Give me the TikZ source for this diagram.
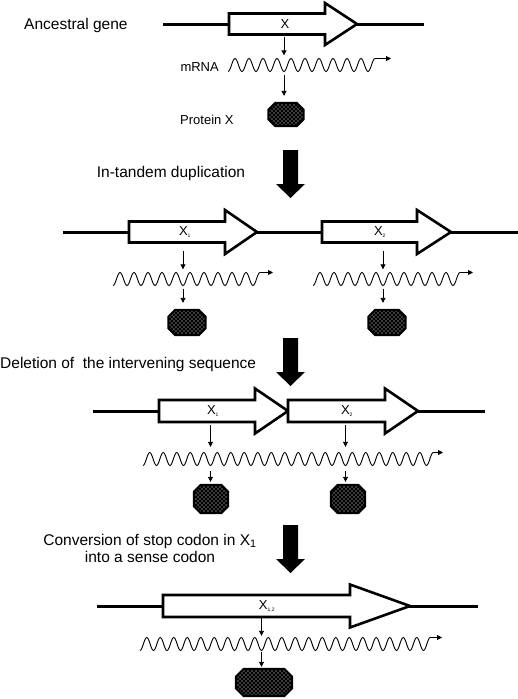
\documentclass[tikz,border=0pt]{standalone}
\usepackage{fontspec}
\setmainfont{Liberation Sans}
\usetikzlibrary{arrows.meta,patterns}

% staggered white dots for the proteins
\pgfdeclarepatternformonly{whitedots}{\pgfqpoint{-1pt}{-1pt}}{\pgfqpoint{3pt}{3pt}}{\pgfqpoint{4pt}{4pt}}{%
  \pgfpathcircle{\pgfqpoint{0pt}{0pt}}{0.65pt}%
  \pgfpathcircle{\pgfqpoint{2pt}{2pt}}{0.65pt}%
  \pgfusepath{fill}}

\begin{document}
\begin{tikzpicture}[x=1pt,y=1pt,
    backbone/.style={line width=3pt},
    gene/.style={line width=2.6pt,fill=white,line join=miter},
    glabel/.style={font=\fontsize{13}{15}\selectfont,inner sep=0pt,minimum height=22pt},
    tag/.style={font=\fontsize{13}{15}\selectfont,inner sep=0pt},
    steplabel/.style={font=\fontsize{15.5}{17.5}\selectfont,inner sep=0pt},
    rna/.style={line width=0.9pt,-{Triangle[length=5pt,width=5pt]}},
    hub/.style={inner sep=0pt,minimum width=0pt,minimum height=19pt},
    cue/.style={line width=0.9pt,-{Triangle[length=5pt,width=5pt]}},
    prot/.style={inner sep=0pt,minimum width=36pt,minimum height=25pt},
    octa/.style={fill=black,postaction={pattern=whitedots,pattern color=white},
      postaction={draw=black,line width=2pt}}]
\useasboundingbox (0,0) rectangle (518,-699);

% ancestral gene
\node[steplabel,anchor=base west] (anc) at (24,-29.5) {Ancestral gene};
\draw[backbone] (163,-24) -- (424,-24);
\draw[gene] (229,-13.5) -- (325,-13.5) -- (325,-3) -- (357,-24) -- (325,-45) -- (325,-34.5) -- (229,-34.5) -- cycle;
\node[glabel] (g1) at (285,-24) {X};
\node[tag,anchor=base east] (mr) at (219,-71.5) {mRNA};
\node[hub] (h1) at (284,-65) {};
\node[prot,minimum width=35pt,minimum height=23pt] (p1) at (286,-114.5) {};
\node[tag,anchor=base west] (pr) at (180,-124) {Protein X};

% duplication
\node[steplabel,anchor=base] (dup) at (171,-177) {In-tandem duplication};
\draw[backbone] (63,-232) -- (518,-232);
\draw[gene] (129,-221.5) -- (225,-221.5) -- (225,-210) -- (257,-232) -- (225,-254) -- (225,-242.5) -- (129,-242.5) -- cycle;
\draw[gene] (322,-221.5) -- (417,-221.5) -- (417,-210) -- (451,-232) -- (417,-254) -- (417,-242.5) -- (322,-242.5) -- cycle;
\node[glabel] (g2) at (185,-232) {X\textsubscript{\tiny 1}};
\node[glabel] (g3) at (380,-232) {X\textsubscript{\tiny 2}};
\node[hub] (h2) at (183,-279) {};
\node[hub] (h3) at (383,-279) {};
\node[prot,minimum width=37pt] (p2) at (187,-322.5) {};
\node[prot,minimum width=37pt] (p3) at (387,-322.5) {};

% deletion
\node[steplabel,anchor=base west] (del) at (0,-368) {Deletion of\ \ the intervening sequence};
\draw[backbone] (93,-411) -- (485,-411);
\draw[gene] (159,-400) -- (255,-400) -- (255,-388.5) -- (288,-411) -- (255,-433.5) -- (255,-422) -- (159,-422) -- cycle;
\draw[gene] (288,-400) -- (385,-400) -- (385,-388.5) -- (418,-411) -- (385,-433.5) -- (385,-422) -- (288,-422) -- cycle;
\node[glabel] (g4) at (213,-411) {X\textsubscript{\tiny 1}};
\node[glabel] (g5) at (347,-411) {X\textsubscript{\tiny 2}};
\node[hub,minimum height=24pt] (h4) at (210.5,-459) {};
\node[hub,minimum height=24pt] (h5) at (345.5,-459) {};
\node[prot,minimum width=34pt,minimum height=28pt] (p4) at (211,-499) {};
\node[prot,minimum width=34pt,minimum height=28pt] (p5) at (348,-499) {};

% conversion
\node[steplabel,align=center,anchor=north] (conv) at (150,-534) {Conversion of stop codon in X\textsubscript{1}\\into a sense codon};
\draw[backbone] (97,-606) -- (478,-606);
\draw[gene] (163,-595) -- (350,-595) -- (350,-584.5) -- (410,-606) -- (350,-627.5) -- (350,-617) -- (163,-617) -- cycle;
\node[glabel] (g6) at (267,-606) {X\textsubscript{\tiny 1,2}};
\node[hub,minimum height=16pt] (h6) at (261.5,-644) {};
\node[prot,minimum width=56pt,minimum height=27pt] (p6) at (264,-682.5) {};

% big arrows
\foreach \t in {150,338,525}
  \fill (283,-\t) -- (298,-\t) -- (298,-\t-34) -- (305,-\t-34) -- (290.5,-\t-48) -- (276,-\t-34) -- (283,-\t-34) -- cycle;

% mRNA waves
\foreach \x/\y/\p/\n/\e in {228/65/14/10/391, 113/279/14/10/273, 313/279/14/10/473, 143/459/13.5/21/443, 140/644/13.5/21/442}
  \draw[rna] (\x,-\y-6.5) \foreach \i in {1,...,\n} {cos ++(\p/4,6.5) sin ++(\p/4,6.5) cos ++(\p/4,-6.5) sin ++(\p/4,-6.5)}
    cos ++(\p/4,6.5) sin ++(\p/4,6.5) -- (\e,-\y+6.5);

% proteins
\foreach \q/\c in {p1/7,p2/7,p3/7,p4/7,p5/7,p6/8}
  \path[octa] ([xshift=\c pt]\q.north west) -- ([xshift=-\c pt]\q.north east) -- ([yshift=-\c pt]\q.north east)
    -- ([yshift=\c pt]\q.south east) -- ([xshift=-\c pt]\q.south east) -- ([xshift=\c pt]\q.south west)
    -- ([yshift=\c pt]\q.south west) -- ([yshift=-\c pt]\q.north west) -- cycle;

% transcription and translation
\draw[cue,shorten <=2pt] (g1.south -| h1) -- (h1.north);
\draw[cue,shorten >=7pt] (h1.south) -- (p1.north -| h1);
\draw[cue,shorten <=8pt] (g2.south -| h2) -- (h2.north);
\draw[cue,shorten >=7pt] (h2.south) -- (p2.north -| h2);
\draw[cue,shorten <=8pt] (g3.south -| h3) -- (h3.north);
\draw[cue,shorten >=7pt] (h3.south) -- (p3.north -| h3);
\draw[cue,shorten <=3pt] (g4.south -| h4) -- (h4.north);
\draw[cue,shorten >=3pt] (h4.south) -- (p4.north -| h4);
\draw[cue,shorten <=3pt] (g5.south -| h5) -- (h5.north);
\draw[cue,shorten >=3pt] (h5.south) -- (p5.north -| h5);
\draw[cue,shorten <=1pt] (g6.south -| h6) -- (h6.north);
\draw[cue,shorten >=2pt] (h6.south) -- (p6.north -| h6);
\end{tikzpicture}
\end{document}
